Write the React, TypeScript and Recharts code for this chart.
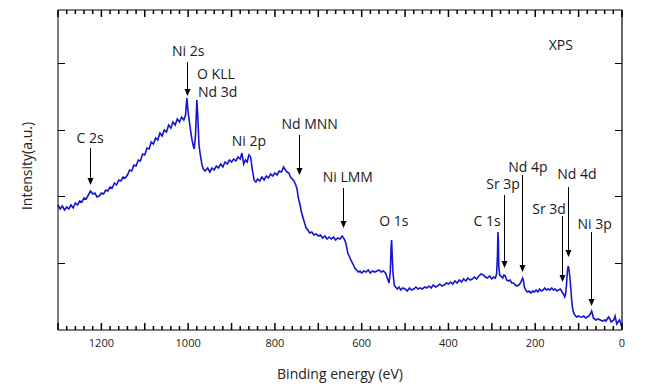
import { Line, LineChart, ReferenceDot, ReferenceLine, XAxis, YAxis } from 'recharts';

// binding energy (eV)
const energy = [
  1300, 1295, 1290, 1285, 1280, 1275, 1270, 1265, 1260, 1255,
  1250, 1245, 1240, 1235, 1230, 1225, 1220, 1215, 1210, 1205,
  1200, 1195, 1190, 1185, 1180, 1175, 1170, 1165, 1160, 1155,
  1150, 1145, 1140, 1135, 1130, 1125, 1120, 1115, 1110, 1105,
  1100, 1095, 1090, 1085, 1080, 1075, 1070, 1065, 1060, 1055,
  1050, 1045, 1040, 1035, 1030, 1025, 1020, 1015, 1010, 1006,
  1003, 1000, 997, 994, 991, 988, 986, 983, 980, 978,
  975, 972, 968, 965, 961, 955, 950, 945, 940, 935,
  930, 925, 920, 915, 910, 905, 900, 895, 890, 885,
  880, 876, 872, 868, 864, 860, 856, 852, 848, 844,
  840, 835, 830, 825, 820, 815, 810, 805, 800, 795,
  790, 785, 780, 776, 772, 768, 764, 760, 756, 752,
  749, 746, 742, 739, 735, 731, 728, 724, 720, 715,
  710, 705, 700, 695, 690, 685, 680, 675, 670, 665,
  660, 655, 650, 645, 640, 636, 632, 628, 624, 620,
  616, 612, 608, 604, 600, 595, 590, 585, 580, 575,
  570, 565, 560, 555, 550, 545, 541, 537, 534, 532,
  531, 530, 528, 525, 522, 518, 514, 510, 505, 500,
  495, 490, 485, 480, 475, 470, 465, 460, 455, 450,
  445, 440, 435, 430, 425, 420, 415, 410, 405, 400,
  395, 390, 385, 380, 375, 370, 365, 360, 355, 350,
  345, 340, 335, 330, 325, 320, 315, 310, 305, 300,
  296, 292, 289, 287, 286, 285, 284, 282, 279, 275,
  272, 269, 266, 262, 258, 254, 250, 246, 242, 238,
  234, 231, 229, 227, 225, 222, 218, 214, 210, 206,
  202, 198, 194, 190, 186, 182, 178, 174, 170, 166,
  162, 158, 154, 150, 146, 142, 138, 135, 132, 130,
  128, 126, 124, 122, 120, 118, 116, 114, 112, 110,
  107, 104, 100, 96, 92, 88, 84, 80, 76, 73,
  70, 68, 66, 63, 60, 55, 50, 45, 40, 37,
  34, 31, 28, 25, 22, 19, 16, 14, 12, 9,
  6, 4, 2, 0,
];

// intensity (a.u.)
const intensity = [
  125, 121, 124, 120, 123, 121, 125, 122, 127, 125,
  129, 128, 132, 131, 135, 139, 136, 137, 133, 134,
  137, 136, 140, 139, 143, 142, 147, 145, 150, 149,
  153, 152, 155, 160, 159, 165, 164, 170, 169, 176,
  175, 182, 181, 188, 186, 192, 190, 197, 194, 200,
  198, 205, 202, 208, 205, 211, 208, 213, 210, 215,
  232, 218, 208, 198, 190, 184, 181, 195, 230, 215,
  185, 175, 165, 161, 159, 162, 158, 162, 160, 164,
  162, 166, 163, 168, 166, 170, 168, 171, 169, 173,
  171, 177, 166, 170, 168, 175, 173, 160, 150, 148,
  151, 149, 153, 150, 154, 152, 156, 154, 157, 155,
  159, 158, 163, 160, 158, 157, 153, 151, 149, 145,
  141, 132, 125, 118, 112, 106, 102, 100, 97, 98,
  95, 96, 94, 95, 92, 94, 91, 93, 91, 93,
  90, 92, 91, 94, 91, 86, 77, 73, 69, 66,
  62, 60, 58, 59, 57, 59, 58, 60, 57, 59,
  58, 59, 60, 58, 59, 57, 52, 47, 58, 85,
  90, 78, 58, 45, 43, 41, 43, 40, 42, 41,
  39, 42, 40, 41, 43, 41, 42, 41, 43, 42,
  44, 42, 45, 43, 44, 46, 44, 45, 47, 46,
  48, 46, 49, 47, 50, 48, 51, 49, 52, 50,
  51, 53, 51, 54, 56, 55, 53, 52, 54, 51,
  53, 52, 56, 75, 98, 90, 64, 55, 54, 52,
  55, 54, 50, 49, 50, 47, 47, 45, 44, 45,
  47, 50, 52, 49, 43, 40, 38, 39, 37, 39,
  38, 40, 38, 41, 39, 40, 42, 40, 41, 40,
  42, 40, 41, 39, 40, 41, 38, 36, 33, 36,
  45, 58, 64, 60, 52, 42, 30, 22, 18, 16,
  14, 13, 14, 13, 13, 14, 12, 13, 14, 16,
  19, 16, 12, 11, 10, 11, 10, 9, 10, 9,
  11, 13, 11, 8, 9, 10, 14, 10, 6, 8,
  10, 8, 5, 3,
];

const labelTicks = [0, 200, 400, 600, 800, 1000, 1200];
const yTicks = [67, 134, 200, 267];

// peak markers: arrow at energy, from tail to tip
const arrows = [
  { ev: 1226, tail: 182, tip: 145 },
  { ev: 1003, tail: 268, tip: 234 },
  { ev: 744, tail: 195, tip: 155 },
  { ev: 644, tail: 142, tip: 102 },
  { ev: 272, tail: 135, tip: 62 },
  { ev: 231, tail: 155, tip: 58 },
  { ev: 138, tail: 114, tip: 48 },
  { ev: 124, tail: 143, tip: 73 },
  { ev: 72, tail: 98, tip: 24 },
];

const peakNames = [
  { text: 'C 2s', ev: 1226, h: 193 },
  { text: 'Ni 2s', ev: 1000, h: 280 },
  { text: 'O KLL', ev: 936, h: 257 },
  { text: 'Nd 3d', ev: 932, h: 239 },
  { text: 'Ni 2p', ev: 860, h: 190 },
  { text: 'Nd MNN', ev: 720, h: 207 },
  { text: 'Ni LMM', ev: 632, h: 154 },
  { text: 'O 1s', ev: 526, h: 110 },
  { text: 'C 1s', ev: 311, h: 110 },
  { text: 'Sr 3p', ev: 274, h: 147 },
  { text: 'Nd 4p', ev: 217, h: 164 },
  { text: 'Sr 3d', ev: 168, h: 122 },
  { text: 'Nd 4d', ev: 104, h: 157 },
  { text: 'Ni 3p', ev: 63, h: 107 },
  { text: 'XPS', ev: 141, h: 286 },
];

const data = energy.map((ev, i) => ({ ev, h: intensity[i] }));

const W = 656;
const H = 379;
const PLOT = { left: 50, right: 614, top: 2, bottom: 322 };
const FONT = '"Open Sans", sans-serif';
const minorTicks = Array.from({ length: 66 }, (_, i) => i * 20);

// tick label plus inward tick marks on the bottom and top edges
const BottomTick = (props: any) => {
  const { x, payload } = props;
  const v = payload.value;
  const len = v % 100 === 0 ? 7 : 4;
  return (
    <g>
      <line x1={x} x2={x} y1={PLOT.bottom} y2={PLOT.bottom - len} stroke="#000" strokeWidth={1.5} />
      <line x1={x} x2={x} y1={PLOT.top} y2={PLOT.top + len} stroke="#000" strokeWidth={1.5} />
      {labelTicks.includes(v) && (
        <text x={x} y={PLOT.bottom + 12} textAnchor="middle" dominantBaseline="central" fontFamily={FONT} fontSize={11} fill="#222">
          {v}
        </text>
      )}
    </g>
  );
};

const LeftTick = (props: any) => {
  const ys = Math.round(props.y) + 0.5;
  return (
    <g>
      <line x1={PLOT.left} x2={PLOT.left + 7} y1={ys} y2={ys} stroke="#000" strokeWidth={1} />
      <line x1={PLOT.right} x2={PLOT.right - 7} y1={ys} y2={ys} stroke="#000" strokeWidth={1} />
    </g>
  );
};

const Arrow = (p: any) => {
  const x = Math.round(p.x1) + 0.5;
  const top = Math.min(p.y1, p.y2);
  const tip = Math.max(p.y1, p.y2);
  return (
    <g>
      <line x1={x} x2={x} y1={top} y2={tip - 6} stroke="#000" strokeWidth={1} />
      <polygon points={`${x - 3},${tip - 7} ${x + 3},${tip - 7} ${x},${tip}`} fill="#000" />
    </g>
  );
};

export default function App() {
  return (
    <LineChart width={W} height={H} data={data} margin={{ top: PLOT.top, right: W - PLOT.right, bottom: 0, left: 0 }}>
      <XAxis
        dataKey="ev"
        type="number"
        domain={[0, 1300]}
        reversed
        ticks={minorTicks}
        interval={0}
        height={H - PLOT.bottom}
        tickLine={false}
        axisLine={{ stroke: '#000', strokeWidth: 1 }}
        tick={<BottomTick />}
        label={{
          content: () => (
            <text x={332} y={365} textAnchor="middle" dominantBaseline="central" fontFamily={FONT} fontSize={14} fill="#222">
              Binding energy (eV)
            </text>
          ),
        }}
      />
      <YAxis
        type="number"
        domain={[0, 320]}
        ticks={yTicks}
        width={PLOT.left}
        tickLine={false}
        axisLine={{ stroke: '#000', strokeWidth: 1 }}
        tick={<LeftTick />}
        label={{
          content: () => (
            <text x={18} y={158} transform="rotate(-90 18 158)" textAnchor="middle" dominantBaseline="central" fontFamily={FONT} fontSize={14} fill="#222">
              Intensity(a.u.)
            </text>
          ),
        }}
      />
      {/* frame: top and right edges */}
      <ReferenceLine y={320} stroke="#000" strokeWidth={1} />
      <ReferenceLine x={0} stroke="#333" strokeWidth={1.5} />
      <Line
        type="linear"
        dataKey="h"
        stroke="#1414d2"
        strokeWidth={1.6}
        dot={false}
        isAnimationActive={false}
      />
      {arrows.map((a) => (
        <ReferenceLine
          key={`arrow-${a.ev}`}
          segment={[{ x: a.ev, y: a.tail }, { x: a.ev, y: a.tip }]}
          shape={<Arrow />}
        />
      ))}
      {peakNames.map((p) => (
        <ReferenceDot
          key={p.text}
          x={p.ev}
          y={p.h}
          shape={(s: any) => (
            <text x={s.cx} y={s.cy} textAnchor="middle" dominantBaseline="central" fontFamily={FONT} fontSize={14} fill="#1a1a1a">
              {p.text}
            </text>
          )}
        />
      ))}
    </LineChart>
  );
}
